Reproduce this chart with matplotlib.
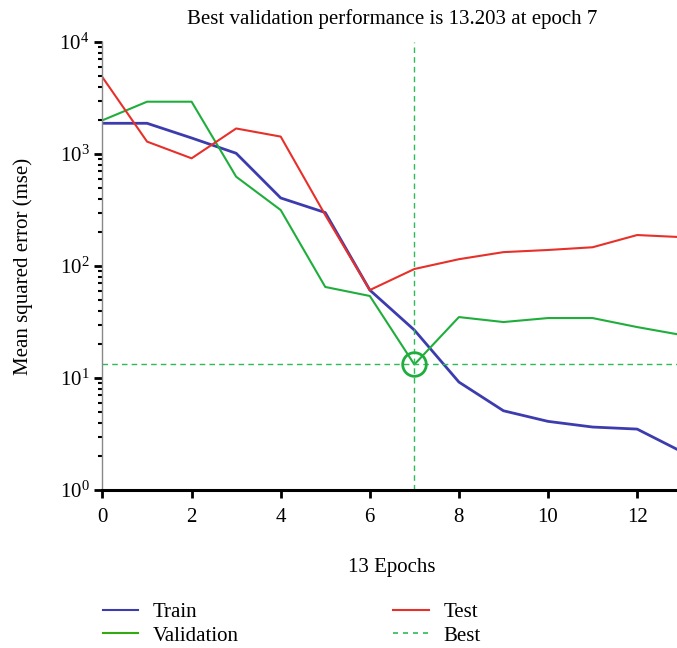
import matplotlib
matplotlib.use("Agg")
import matplotlib.pyplot as plt
from matplotlib.lines import Line2D
from matplotlib.ticker import LogLocator, NullFormatter

plt.rcParams["font.family"] = ["Liberation Serif", "DejaVu Serif"]
plt.rcParams["mathtext.fontset"] = "custom"
plt.rcParams["mathtext.rm"] = "Liberation Serif"

# ── Training record (mse per epoch) ───────────────────────────────────────────
epochs = list(range(14))
train_mse = [1880, 1880, 1390, 1015, 405, 300, 61, 26.8, 9.2, 5.1, 4.1, 3.65, 3.5, 2.2]
val_mse = [2000, 2930, 2930, 627, 316, 65, 54, 13.203, 35, 31.6, 34.3, 34.3, 28.5, 24.2]
test_mse = [4840, 1290, 915, 1690, 1430, 285, 61, 94, 115, 133, 139, 147, 189, 181]
best_epoch = 7
best_perf = 13.203

TRAIN_C = "#3c3caf"
VAL_C = "#1fae3c"
TEST_C = "#e8302a"
BEST_C = "#2dbb5a"
FS = 15

fig = plt.figure(figsize=(6.77, 6.48), dpi=100)
ax = fig.add_axes([0.1514, 0.2438, 0.8555, 0.6914])

ax.plot(epochs, train_mse, color=TRAIN_C, lw=2.0)
ax.plot(epochs, val_mse, color=VAL_C, lw=1.5)
ax.plot(epochs, test_mse, color=TEST_C, lw=1.5)
ax.axvline(best_epoch, color=BEST_C, lw=1.0, ls=(0, (4, 3)))
ax.axhline(best_perf, color=BEST_C, lw=1.0, ls=(0, (4, 3)))
ax.plot([best_epoch], [best_perf], "o", ms=17, mfc="none", mec=VAL_C, mew=2.0)

ax.set_yscale("log")
ax.set_xlim(0, 13)
ax.set_ylim(1, 1e4)
ax.set_xticks(range(0, 13, 2))
ax.yaxis.set_major_locator(LogLocator(base=10, numticks=10))
ax.yaxis.set_minor_locator(LogLocator(base=10, subs=range(2, 10), numticks=10))
ax.yaxis.set_minor_formatter(NullFormatter())

for side in ("top", "right"):
    ax.spines[side].set_visible(False)
ax.spines["left"].set_color("#888888")
ax.spines["left"].set_linewidth(1.0)
ax.spines["bottom"].set_color("black")
ax.spines["bottom"].set_linewidth(2.2)

ax.tick_params(axis="x", direction="out", length=6, width=2, labelsize=FS, pad=7)
ax.tick_params(axis="y", which="major", direction="out", length=6, width=2, labelsize=FS)
ax.tick_params(axis="y", which="minor", direction="out", length=3, width=1.5)

ax.set_title(f"Best validation performance is {best_perf:.3f} at epoch {best_epoch}",
             fontsize=FS, pad=13)
ax.set_xlabel(f"{len(epochs) - 1} Epochs", fontsize=FS, labelpad=22)
ax.set_ylabel("Mean squared error (mse)", fontsize=FS, labelpad=19)

left_handles = [Line2D([], [], color=TRAIN_C, lw=1.5), Line2D([], [], color="#33aa11", lw=1.5)]
right_handles = [Line2D([], [], color=TEST_C, lw=1.5),
                 Line2D([], [], color=BEST_C, lw=1.2, ls=(0, (3, 3)))]
leg_kw = dict(loc="upper left", frameon=False, fontsize=FS, handlelength=1.7,
              handletextpad=0.7, labelspacing=0.2, borderaxespad=0, borderpad=0.2)
fig.legend(left_handles, ["Train", "Validation"], bbox_to_anchor=(0.146, 0.077), **leg_kw)
fig.legend(right_handles, ["Test", "Best"], bbox_to_anchor=(0.575, 0.077), **leg_kw)

fig.savefig("out.png", dpi=100)
